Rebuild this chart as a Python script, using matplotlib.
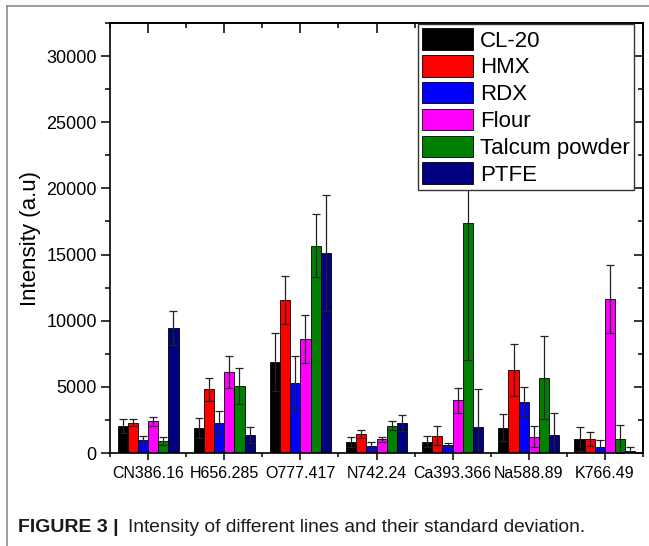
import numpy as np
import matplotlib
matplotlib.use("Agg")
import matplotlib.pyplot as plt
from matplotlib.lines import Line2D
from matplotlib.ticker import MultipleLocator, FixedLocator

plt.rcParams['font.family'] = ['Liberation Sans', 'DejaVu Sans']

# Emission lines and mean intensity (a.u) with standard deviation per sample
categories = ['CN386.16', 'H656.285', 'O777.417', 'N742.24', 'Ca393.366', 'Na588.89', 'K766.49']
samples = ['CL-20', 'HMX', 'RDX', 'Flour', 'Talcum powder', 'PTFE']
colors = ['#000000', '#ff0000', '#0000ff', '#ff00ff', '#008000', '#000080']

cl20 = [2040, 1910, 6850, 860, 860, 1920, 1060]
cl20_sd = [500, 760, 2190, 370, 400, 1000, 900]
hmx = [2290, 4810, 11560, 1440, 1310, 6270, 1060]
hmx_sd = [250, 880, 1790, 270, 730, 1940, 530]
rdx = [980, 2270, 5260, 560, 600, 3850, 430]
rdx_sd = [330, 900, 2040, 300, 180, 1160, 530]
flour = [2390, 6150, 8610, 1030, 3980, 1230, 11660]
flour_sd = [330, 1200, 1790, 200, 960, 810, 2570]
talc = [900, 5060, 15670, 2070, 17400, 5690, 1060]
talc_sd = [280, 1340, 2370, 320, 10370, 3120, 1080]
ptfe = [9450, 1360, 15110, 2270, 1960, 1330, 150]
ptfe_sd = [1280, 580, 4380, 630, 2900, 1670, 280]

means = [cl20, hmx, rdx, flour, talc, ptfe]
sds = [cl20_sd, hmx_sd, rdx_sd, flour_sd, talc_sd, ptfe_sd]

fig = plt.figure(figsize=(6.49, 5.46), dpi=100)
ax = fig.add_axes([110 / 649, 1 - 453 / 546, 533 / 649, 430 / 546])

x = np.arange(1, len(categories) + 1)
w = 0.8 / len(samples)
for i, (name, m, s, c) in enumerate(zip(samples, means, sds, colors)):
    ax.bar(x + (i - 2.5) * w, m, w, yerr=s, color=c, edgecolor='black', linewidth=0.6,
           label=name, error_kw=dict(ecolor='#222222', elinewidth=0.9, capsize=3.2, capthick=0.9))

ax.set_xlim(0.5, 7.5)
ax.set_ylim(0, 32500)
ax.set_xticks(x)
ax.set_xticklabels(categories, fontsize=11.5)
ax.xaxis.set_minor_locator(FixedLocator(np.arange(0.5, 8, 1)))
ax.set_yticks(np.arange(0, 30001, 5000))
ax.yaxis.set_minor_locator(MultipleLocator(2500))
ax.tick_params(axis='y', labelsize=13, pad=3)
ax.tick_params(which='major', length=6.5, width=1.1)
ax.tick_params(which='minor', length=3.5, width=1.1)
ax.tick_params(axis='x', which='major', length=5, pad=4)
ax.tick_params(axis='x', which='minor', length=3)

# mirrored ticks on top and right, pointing inwards
sx = ax.secondary_xaxis('top')
sx.set_xticks(x)
sx.xaxis.set_minor_locator(FixedLocator(np.arange(0.5, 8, 1)))
sx.tick_params(which='major', direction='in', length=7, width=1.1, labeltop=False)
sx.tick_params(which='minor', direction='in', length=3.5, width=1.1)
sy = ax.secondary_yaxis('right')
sy.set_yticks(np.arange(0, 30001, 5000))
sy.yaxis.set_minor_locator(MultipleLocator(2500))
sy.tick_params(which='major', direction='in', length=6.5, width=1.1, labelright=False)
sy.tick_params(which='minor', direction='in', length=3.5, width=1.1)
for sp in list(ax.spines.values()) + [sx.spines['top'], sy.spines['right']]:
    sp.set_linewidth(1.2)

ax.set_ylabel('Intensity (a.u)', fontsize=16, labelpad=4)

leg = ax.legend(loc='upper right', bbox_to_anchor=(634 / 649, 1 - 24 / 546),
                bbox_transform=fig.transFigure, borderaxespad=0, fontsize=16,
                handlelength=2.3, handleheight=1.1, labelspacing=0.16,
                handletextpad=0.3, borderpad=0.2, fancybox=False, framealpha=1)
leg.get_frame().set_edgecolor('#333333')
leg.get_frame().set_linewidth(1.0)
leg.set_zorder(10)

# page frame lines
fig.add_artist(Line2D([7 / 649, 1], [1 - 6 / 546, 1 - 6 / 546], color='#8c8c8c', lw=1.2,
                      transform=fig.transFigure))
fig.add_artist(Line2D([7 / 649, 7 / 649], [0, 1 - 6 / 546], color='#8c8c8c', lw=1.2,
                      transform=fig.transFigure))

fig.text(18 / 649, 1 - 532 / 546, 'FIGURE 3 |', fontsize=14, fontweight='bold',
         color='#1a1a1a', va='baseline')
fig.text(128 / 649, 1 - 532 / 546, 'Intensity of different lines and their standard deviation.',
         fontsize=13.8, color='#1a1a1a', va='baseline')

fig.savefig('out.png', dpi=100)
